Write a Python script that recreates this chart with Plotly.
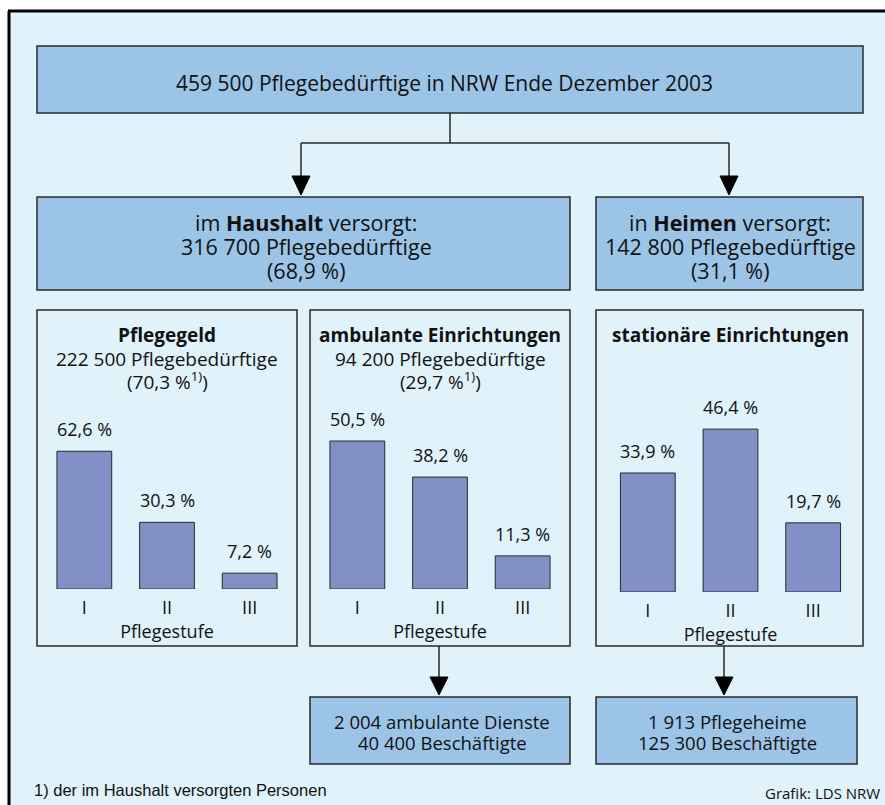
import plotly.graph_objects as go

# ---------------- data ----------------
stufen = ["I", "II", "III"]
pflegegeld = [62.6, 30.3, 7.2]
ambulant = [50.5, 38.2, 11.3]
stationaer = [33.9, 46.4, 19.7]

title_text = "459 500 Pflegebedürftige in NRW Ende Dezember 2003"
haushalt_lines = ["im <b>Haushalt</b> versorgt:", "316 700 Pflegebedürftige", "(68,9 %)"]
heime_lines = ["in <b>Heimen</b> versorgt:", "142 800 Pflegebedürftige", "(31,1 %)"]
pflegegeld_lines = ["<b>Pflegegeld</b>", "222 500 Pflegebedürftige", "(70,3 %<sup>1)</sup>)"]
ambulant_lines = ["<b>ambulante Einrichtungen</b>", "94 200 Pflegebedürftige", "(29,7 %<sup>1)</sup>)"]
stationaer_lines = ["<b>stationäre Einrichtungen</b>"]
dienste_lines = ["2 004 ambulante Dienste", "40 400 Beschäftigte"]
heime_bottom_lines = ["1 913 Pflegeheime", "125 300 Beschäftigte"]
footnote = "1) der im Haushalt versorgten Personen"
source = "Grafik: LDS NRW"
axis_title = "Pflegestufe"

# ---------------- styling ----------------
W, H = 885, 805
BG = "#e0f2fa"
BOX = "#9cc4e6"
BAR = "#8191c8"
EDGE = "#2a2a2a"
FONT = "Open Sans"
TXT = "#111111"


def X(px):
    return px / W


def Y(py):
    return 1 - py / H


fig = go.Figure()
shapes = []


def rect(x0, y0, x1, y1, fill, lw=1.5, color=EDGE):
    shapes.append(dict(type="rect", xref="paper", yref="paper",
                       x0=X(x0), x1=X(x1), y0=Y(y1), y1=Y(y0),
                       fillcolor=fill, line=dict(color=color, width=lw), layer="below"))


def line(x0, y0, x1, y1, lw=1.5, color=EDGE):
    shapes.append(dict(type="line", xref="paper", yref="paper",
                       x0=X(x0), x1=X(x1), y0=Y(y0), y1=Y(y1),
                       line=dict(color=color, width=lw), layer="below"))


def arrowhead(xc, ytop, ytip, half=9):
    path = "M {} {} L {} {} L {} {} Z".format(X(xc - half), Y(ytop), X(xc + half), Y(ytop), X(xc), Y(ytip))
    shapes.append(dict(type="path", xref="paper", yref="paper", path=path,
                       fillcolor="black", line=dict(color="black", width=1), layer="below"))


# white margins outside the frame, then the frame
rect(0, 0, 885, 10, "white", lw=0, color="rgba(0,0,0,0)")
rect(0, 0, 8, 805, "white", lw=0, color="rgba(0,0,0,0)")
line(9, 11, 9, 805, lw=3, color="black")
line(8, 11, 885, 11, lw=3, color="black")

# top box
rect(37, 46, 863, 113, BOX)
# connectors
line(450, 113, 450, 143)
line(301, 143, 729, 143)
line(301, 143, 301, 178)
line(729, 143, 729, 178)
arrowhead(301, 176, 195)
arrowhead(729, 176, 195)

# second row
rect(37, 197, 570, 290, BOX)
rect(596, 197, 863, 290, BOX)

# panels
rect(37, 310, 297, 646, BG)
rect(310, 310, 570, 646, BG)
rect(596, 310, 863, 646, BG)

# bottom arrows
line(439, 646, 439, 678)
arrowhead(439, 677, 695)
line(724, 646, 724, 678)
arrowhead(724, 677, 695)

# bottom boxes
rect(310, 697, 570, 764, BOX)
rect(596, 697, 857, 764, BOX)

# ---------------- bars ----------------
panels = [
    (pflegegeld, (43, 291), 589, 189 / 2.20),
    (ambulant, (316, 564), 589, 189 / 2.93),
    (stationaer, (606.5, 854.5), 592, 192 / 3.51),
]

annotations = []
for i, (vals, (xa, xb), base, yr) in enumerate(panels, start=1):
    suf = "" if i == 1 else str(i)
    fig.add_trace(go.Bar(x=stufen, y=vals, xaxis="x" + suf, yaxis="y" + suf,
                         marker=dict(color=BAR, line=dict(color=EDGE, width=1)),
                         hoverinfo="skip", showlegend=False))
    fig.layout["xaxis" + suf] = dict(
        domain=[X(xa), X(xb)], anchor="y" + suf, type="category",
        showgrid=False, zeroline=False, showline=False,
        ticks="outside", ticklen=2, tickcolor="rgba(0,0,0,0)",
        tickfont=dict(family=FONT, size=18, color=TXT),
        title=dict(text=axis_title, standoff=0 if i < 3 else 0, font=dict(family=FONT, size=18, color=TXT)),
        fixedrange=True)
    fig.layout["yaxis" + suf] = dict(
        domain=[Y(base), Y(400)], anchor="x" + suf, range=[0, yr],
        visible=False, fixedrange=True)
    for s, v in zip(stufen, vals):
        annotations.append(dict(
            x=s, y=v, xref="x" + suf, yref="y" + suf,
            text=("%.1f %%" % v).replace(".", ","), showarrow=False,
            yanchor="middle", yshift=22,
            font=dict(family=FONT, size=18, color=TXT)))


def label(xc, yc, text, size, family=FONT, xanchor="center"):
    annotations.append(dict(x=X(xc), y=Y(yc), xref="paper", yref="paper",
                            text=text, showarrow=False, xanchor=xanchor, yanchor="middle",
                            font=dict(family=family, size=size, color=TXT)))


def lines(xc, ys, texts, size):
    for yc, t in zip(ys, texts):
        label(xc, yc, t, size)


label(444, 83, title_text, 21)
lines(306, [222, 246, 270], haushalt_lines, 21.5)
lines(730, [222, 246, 270], heime_lines, 21.5)
lines(167, [335, 359, 381], pflegegeld_lines, 19)
lines(440, [335, 359, 381], ambulant_lines, 19)
lines(730, [335], stationaer_lines, 19)
lines(442, [721, 742], dienste_lines, 18.5)
lines(727, [721, 742], heime_bottom_lines, 18.5)
label(32, 790, footnote, 16.5, family="Liberation Sans", xanchor="left")
label(882, 793, source, 15, xanchor="right")

fig.update_layout(
    width=W, height=H, autosize=False,
    margin=dict(l=0, r=0, t=0, b=0),
    paper_bgcolor=BG, plot_bgcolor="rgba(0,0,0,0)",
    bargap=1 - 55 / 83,
    shapes=shapes, annotations=annotations,
    font=dict(family=FONT, color=TXT),
)

fig.write_html("out.html", config={"displayModeBar": False, "staticPlot": True},
               post_script="document.body.style.margin='0';")
